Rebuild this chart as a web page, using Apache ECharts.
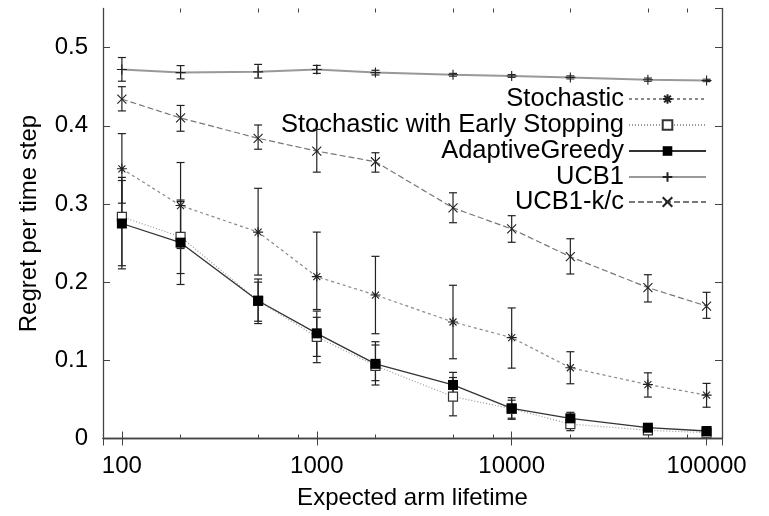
<!DOCTYPE html>
<html>
<head>
<meta charset="utf-8">
<script src="https://cdn.jsdelivr.net/npm/echarts@6/dist/echarts.min.js"></script>
<style>
  html, body { margin: 0; padding: 0; background: #fff; }
  #chart { width: 769px; height: 516px; }
</style>
</head>
<body>
<div id="chart"></div>
<script>
// Expected arm lifetime (x) shared by every series
const lifetimes = [100, 200, 500, 1000, 2000, 5000, 10000, 20000, 50000, 100000];

// Stochastic
const stochasticMean = [0.345, 0.298, 0.264, 0.207, 0.1835, 0.149, 0.129, 0.0905, 0.069, 0.0555];
const stochasticLow  = [0.301, 0.243, 0.209, 0.165, 0.134, 0.102, 0.090, 0.070, 0.053, 0.040];
const stochasticHigh = [0.390, 0.353, 0.320, 0.264, 0.233, 0.196, 0.167, 0.111, 0.084, 0.0705];

// Stochastic with Early Stopping
const earlyStopMean = [0.2835, 0.258, 0.176, 0.130, 0.093, 0.0535, 0.038, 0.0185, 0.0105, 0.0075];
const earlyStopLow  = [0.217, 0.211, 0.147, 0.105, 0.074, 0.029, 0.026, 0.010, 0.006, 0.005];
const earlyStopHigh = [0.334, 0.305, 0.200, 0.155, 0.1196, 0.078, 0.049, 0.027, 0.015, 0.010];

// AdaptiveGreedy
const greedyMean = [0.275, 0.2505, 0.1762, 0.1345, 0.0955, 0.0685, 0.0386, 0.0258, 0.0138, 0.0096];
const greedyLow  = [0.221, 0.197, 0.150, 0.097, 0.0684, 0.052, 0.0245, 0.018, 0.010, 0.007];
const greedyHigh = [0.330, 0.303, 0.204, 0.163, 0.1238, 0.0846, 0.0522, 0.0335, 0.0175, 0.012];

// UCB1
const ucbMean = [0.472, 0.468, 0.469, 0.472, 0.468, 0.4652, 0.4636, 0.4619, 0.4589, 0.458];
const ucbLow  = [0.457, 0.460, 0.461, 0.467, 0.465, 0.4635, 0.462, 0.460, 0.457, 0.4565];
const ucbHigh = [0.4873, 0.477, 0.4785, 0.4772, 0.471, 0.467, 0.4655, 0.4638, 0.461, 0.4595];

// UCB1-k/c
const ucbKcMean = [0.434, 0.410, 0.384, 0.3676, 0.354, 0.295, 0.268, 0.2325, 0.193, 0.1694];
const ucbKcLow  = [0.419, 0.393, 0.370, 0.3407, 0.3407, 0.276, 0.251, 0.2104, 0.1746, 0.1537];
const ucbKcHigh = [0.450, 0.426, 0.401, 0.3954, 0.3655, 0.3143, 0.285, 0.2555, 0.2095, 0.187];

// Axis ranges and ticks
const xRange = [80, 120000];
const xMinorTicks = [200, 500, 800, 2000, 5000, 8000, 20000, 50000, 80000];
const yRange = [0, 0.55];
const yStep = 0.1;

const FONT = '"Liberation Sans", Arial, sans-serif';
const FRAME = '#444';

// Point glyphs (stroked paths)
const STAR = 'path://M0,5L10,5M5,0L5,10M1.5,1.5L8.5,8.5M8.5,1.5L1.5,8.5';
const PLUS = 'path://M0,5L10,5M5,0L5,10';
const CROSS = 'path://M0,0L10,10M10,0L0,10';

const chart = echarts.init(document.getElementById('chart'), null, { renderer: 'canvas' });

function pairs(ys) {
  return lifetimes.map((x, i) => [x, ys[i]]);
}

// Vertical error bar with short caps at both ends
function errorBars(id, low, high) {
  return {
    type: 'custom',
    name: id + ' error',
    xAxisIndex: 0,
    yAxisIndex: 0,
    z: 4,
    silent: true,
    data: lifetimes.map((x, i) => [x, low[i], high[i]]),
    encode: { x: 0, y: [1, 2] },
    renderItem(params, api) {
      const top = api.coord([api.value(0), api.value(2)]);
      const bot = api.coord([api.value(0), api.value(1)]);
      const cap = 4;
      const style = { stroke: '#222', lineWidth: 1.2, fill: null };
      return {
        type: 'group',
        children: [
          { type: 'line', shape: { x1: top[0], y1: top[1], x2: bot[0], y2: bot[1] }, style },
          { type: 'line', shape: { x1: top[0] - cap, y1: top[1], x2: top[0] + cap, y2: top[1] }, style },
          { type: 'line', shape: { x1: bot[0] - cap, y1: bot[1], x2: bot[0] + cap, y2: bot[1] }, style }
        ]
      };
    }
  };
}

function lineSeries(name, ys, symbol, symbolSize, lineStyle, itemStyle) {
  return {
    type: 'line',
    name,
    xAxisIndex: 0,
    yAxisIndex: 0,
    data: pairs(ys),
    symbol,
    symbolSize,
    showAllSymbol: true,
    lineStyle,
    itemStyle,
    z: 5,
    emphasis: { disabled: true }
  };
}

const seriesNames = ['Stochastic', 'Stochastic with Early Stopping', 'AdaptiveGreedy', 'UCB1', 'UCB1-k/c'];

const series = [
  errorBars('Stochastic', stochasticLow, stochasticHigh),
  errorBars('Stochastic with Early Stopping', earlyStopLow, earlyStopHigh),
  errorBars('AdaptiveGreedy', greedyLow, greedyHigh),
  errorBars('UCB1', ucbLow, ucbHigh),
  errorBars('UCB1-k/c', ucbKcLow, ucbKcHigh),
  lineSeries('Stochastic', stochasticMean, STAR, 10,
    { color: '#888', width: 1.2, type: [3, 3] },
    { color: '#222', borderColor: '#222', borderWidth: 1.1 }),
  lineSeries('Stochastic with Early Stopping', earlyStopMean, 'rect', 9,
    { color: '#999', width: 1.2, type: [1, 2] },
    { color: '#fff', borderColor: '#333', borderWidth: 1.2 }),
  lineSeries('AdaptiveGreedy', greedyMean, 'rect', 10,
    { color: '#333', width: 1.3, type: 'solid' },
    { color: '#000', borderColor: '#000', borderWidth: 0 }),
  lineSeries('UCB1', ucbMean, PLUS, 10,
    { color: '#999', width: 2, type: 'solid' },
    { color: '#222', borderColor: '#222', borderWidth: 1.1 }),
  lineSeries('UCB1-k/c', ucbKcMean, CROSS, 9,
    { color: '#777', width: 1.2, type: [6, 3] },
    { color: '#222', borderColor: '#222', borderWidth: 1.1 })
];

// Legend rows: text right-aligned with the sample line to its right
const legendRowCenters = [99, 125, 151, 177, 202];
const legend = seriesNames.map((name, i) => ({
  data: [name],
  right: 62,
  top: legendRowCenters[i] - 13,
  padding: 0,
  orient: 'vertical',
  align: 'right',
  itemWidth: 77,
  itemHeight: 12,
  selectedMode: false,
  textStyle: { fontSize: 25.5, color: '#000', fontFamily: FONT }
}));

const logTick = v => Math.log10(v);

// Short inward ticks between the decades, on a linear axis spanning the same log range
function minorAxis(position) {
  return {
    type: 'value',
    position,
    min: logTick(xRange[0]),
    max: logTick(xRange[1]),
    axisLine: { show: false },
    axisLabel: { show: false },
    splitLine: { show: false },
    axisTick: {
      show: true, inside: true, length: 4,
      customValues: xMinorTicks.map(logTick),
      lineStyle: { color: FRAME, width: 1 }
    }
  };
}

const isDecade = v => Math.abs(Math.log10(v) - Math.round(Math.log10(v))) < 1e-6;

const option = {
  animation: false,
  backgroundColor: '#fff',
  grid: { left: 103, right: 47, top: 8.5, bottom: 77.5 },
  legend,
  xAxis: [
    {
      type: 'log',
      logBase: 10,
      position: 'bottom',
      min: xRange[0],
      max: xRange[1],
      name: 'Expected arm lifetime',
      nameLocation: 'middle',
      nameGap: 48,
      nameTextStyle: { fontSize: 24, color: '#000', fontFamily: FONT },
      axisLine: { show: true, lineStyle: { color: FRAME, width: 1.3 } },
      axisTick: { show: true, inside: true, length: 7, lineStyle: { color: FRAME, width: 1 } },
      axisLabel: {
        fontSize: 24, color: '#000', fontFamily: FONT, margin: 16,
        formatter: v => (isDecade(v) ? String(Math.round(v)) : '')
      },
      splitLine: { show: false },
      minorTick: { show: false }
    },
    {
      type: 'log',
      logBase: 10,
      position: 'top',
      min: xRange[0],
      max: xRange[1],
      axisLine: { show: true, lineStyle: { color: FRAME, width: 1.3 } },
      axisTick: { show: true, inside: true, length: 7, lineStyle: { color: FRAME, width: 1 } },
      axisLabel: { show: false },
      splitLine: { show: false }
    },
    minorAxis('bottom'),
    minorAxis('top')
  ],
  yAxis: [
    {
      type: 'value',
      position: 'left',
      min: yRange[0],
      max: yRange[1],
      interval: yStep,
      name: 'Regret per time step',
      nameLocation: 'middle',
      nameGap: 62,
      nameRotate: 90,
      nameTextStyle: { fontSize: 24, color: '#000', fontFamily: FONT },
      axisLine: { show: true, lineStyle: { color: FRAME, width: 1.3 } },
      axisTick: { show: true, inside: true, length: 7, lineStyle: { color: FRAME, width: 1 } },
      axisLabel: {
        fontSize: 24, color: '#000', fontFamily: FONT, margin: 15,
        showMaxLabel: false,
        formatter: v => (v > yRange[1] - 1e-9 ? '' : String(+v.toFixed(1)))
      },
      splitLine: { show: false }
    },
    {
      type: 'value',
      position: 'right',
      min: yRange[0],
      max: yRange[1],
      interval: yStep,
      axisLine: { show: true, lineStyle: { color: FRAME, width: 1.3 } },
      axisTick: { show: true, inside: true, length: 7, lineStyle: { color: FRAME, width: 1 } },
      axisLabel: { show: false },
      splitLine: { show: false }
    }
  ],
  series
};

chart.setOption(option);
</script>
</body>
</html>
